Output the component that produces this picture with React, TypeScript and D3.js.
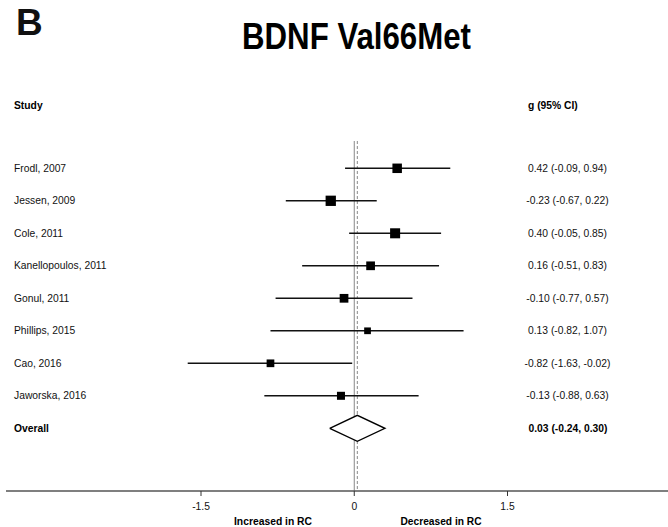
import React from "react";
import * as d3 from "d3";

const studies = ["Frodl, 2007", "Jessen, 2009", "Cole, 2011", "Kanellopoulos, 2011", "Gonul, 2011", "Phillips, 2015", "Cao, 2016", "Jaworska, 2016"];
const effects = [0.42, -0.23, 0.40, 0.16, -0.10, 0.13, -0.82, -0.13];
const lowers = [-0.09, -0.67, -0.05, -0.51, -0.77, -0.82, -1.63, -0.88];
const uppers = [0.94, 0.22, 0.85, 0.83, 0.57, 1.07, -0.02, 0.63];
const weights = [14.6, 17.2, 16.3, 12.3, 12.3, 7.3, 9.6, 10.4];
const ciLabels = ["0.42 (-0.09, 0.94)", "-0.23 (-0.67, 0.22)", "0.40 (-0.05, 0.85)", "0.16 (-0.51, 0.83)", "-0.10 (-0.77, 0.57)", "0.13 (-0.82, 1.07)", "-0.82 (-1.63, -0.02)", "-0.13 (-0.88, 0.63)"];
const overallLabel = "Overall";
const overall = { est: 0.03, lo: -0.24, hi: 0.30, text: "0.03 (-0.24, 0.30)" };
const xTicks = [-1.5, 0, 1.5];
const rows = [...studies, overallLabel];

const W = 668;
const H = 527;
const FONT = "'Liberation Sans', Arial, Helvetica, sans-serif";

export default function App() {
  const x = d3.scaleLinear().domain([-1.5, 1.5]).range([201, 507.5]);
  const y = d3.scalePoint<string>().domain(rows).range([168.3, 428.3]);
  const size = d3.scaleSqrt().domain([0, d3.max(weights) as number]).range([0, 10.3]);
  const axisY = 491;
  const x0 = x(0);
  const diamond = d3.line()([
    [x(overall.lo), y(overallLabel)!],
    [x(overall.est), y(overallLabel)! - 13],
    [x(overall.hi), y(overallLabel)!],
    [x(overall.est), y(overallLabel)! + 13],
    [x(overall.lo), y(overallLabel)!],
  ]) as string;

  return (
    <svg width={W} height={H} style={{ position: "absolute", left: 0, top: 0, background: "#fff" }} fontFamily={FONT}>
      <rect width={W} height={H} fill="#fff" />
      <text x={16} y={35} fontSize={37} fontWeight="bold" fill="#111">B</text>
      <text x={242} y={49} fontSize={36} fontWeight="bold" fill="#000" textLength={229} lengthAdjust="spacingAndGlyphs">BDNF Val66Met</text>

      <text x={14} y={105} dy="0.35em" fontSize={10.3} fontWeight="bold">Study</text>
      <text x={528} y={105} dy="0.35em" fontSize={10.3} fontWeight="bold">g (95% CI)</text>

      {/* reference lines */}
      <line x1={x0} x2={x0} y1={141} y2={axisY} stroke="#888" strokeWidth={1} />
      <line x1={x(overall.est)} x2={x(overall.est)} y1={141} y2={axisY} stroke="#888" strokeWidth={1} strokeDasharray="3,2" />

      {studies.map((s, i) => {
        const yy = y(s)!;
        const sz = size(weights[i]);
        return (
          <g key={s}>
            <text x={14} y={yy} dy="0.35em" fontSize={10.3} fill="#111">{s}</text>
            <line x1={x(lowers[i])} x2={x(uppers[i])} y1={yy} y2={yy} stroke="#111" strokeWidth={1.4} />
            <rect x={x(effects[i]) - sz / 2} y={yy - sz / 2} width={sz} height={sz} fill="#000" />
            <text x={567.5} y={yy} dy="0.35em" fontSize={10.3} textAnchor="middle" fill="#111">{ciLabels[i]}</text>
          </g>
        );
      })}

      <text x={14} y={y(overallLabel)!} dy="0.35em" fontSize={10.3} fontWeight="bold">Overall</text>
      <path d={diamond} fill="#fff" stroke="#000" strokeWidth={1.4} />
      <text x={568} y={y(overallLabel)!} dy="0.35em" fontSize={10.3} fontWeight="bold" textAnchor="middle">{overall.text}</text>

      {/* axis */}
      <line x1={6} x2={W} y1={axisY} y2={axisY} stroke="#555" strokeWidth={1.5} />
      {xTicks.map((t) => (
        <g key={t}>
          <line x1={x(t)} x2={x(t)} y1={axisY} y2={axisY + 5} stroke="#333" strokeWidth={1} />
          <text x={x(t)} y={axisY + 15} dy="0.35em" fontSize={10.3} textAnchor="middle" fill="#111">{String(t)}</text>
        </g>
      ))}
      <text x={273} y={521} dy="0.35em" fontSize={10.3} fontWeight="bold" textAnchor="middle" textLength={78} lengthAdjust="spacingAndGlyphs">Increased in RC</text>
      <text x={441} y={521} dy="0.35em" fontSize={10.3} fontWeight="bold" textAnchor="middle" textLength={81} lengthAdjust="spacingAndGlyphs">Decreased in RC</text>
    </svg>
  );
}
